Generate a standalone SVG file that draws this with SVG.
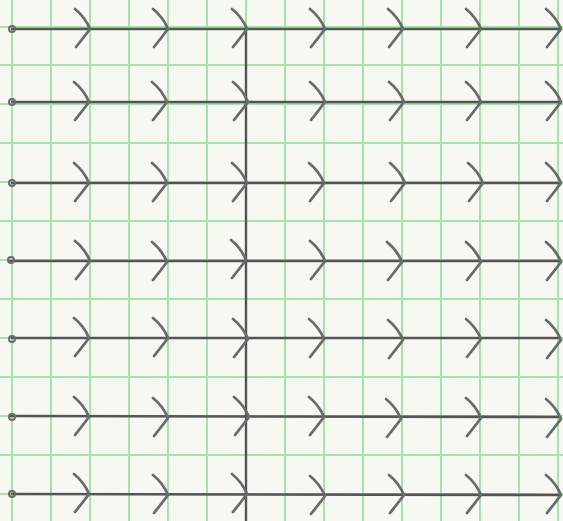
<svg xmlns="http://www.w3.org/2000/svg" xmlns:xlink="http://www.w3.org/1999/xlink" width="563" height="521" viewBox="0 0 563 521">
<style>
.grid line{stroke:#a3e4ab;stroke-width:2}
.row{stroke:#555;stroke-width:2.6;fill:none;stroke-linecap:round}
.axis{stroke:#555;stroke-width:2.4;fill:none}
.chev{stroke:#6a6a6a;stroke-width:2.8;fill:none;stroke-linecap:round;stroke-linejoin:round}
.dot{fill:none;stroke:#6a6a6a;stroke-width:2}
</style>
<defs>
<path id="cv" class="chev" d="M-15,-20 Q-5,-12 0,0 Q-6,8 -14,18"/>
</defs>
<rect width="563" height="521" fill="#f6f8f1"/>
<g class="grid">
<line x1="12" y1="0" x2="12" y2="521"/><line x1="51" y1="0" x2="51" y2="521"/><line x1="90" y1="0" x2="90" y2="521"/><line x1="129" y1="0" x2="129" y2="521"/><line x1="168" y1="0" x2="168" y2="521"/><line x1="207" y1="0" x2="207" y2="521"/><line x1="246" y1="0" x2="246" y2="521"/><line x1="285" y1="0" x2="285" y2="521"/><line x1="324" y1="0" x2="324" y2="521"/><line x1="363" y1="0" x2="363" y2="521"/><line x1="402" y1="0" x2="402" y2="521"/><line x1="441" y1="0" x2="441" y2="521"/><line x1="480" y1="0" x2="480" y2="521"/><line x1="519" y1="0" x2="519" y2="521"/><line x1="558" y1="0" x2="558" y2="521"/>
<line x1="0" y1="27" x2="563" y2="27"/><line x1="0" y1="65" x2="563" y2="65"/><line x1="0" y1="104" x2="563" y2="104"/><line x1="0" y1="143" x2="563" y2="143"/><line x1="0" y1="182" x2="563" y2="182"/><line x1="0" y1="221" x2="563" y2="221"/><line x1="0" y1="260" x2="563" y2="260"/><line x1="0" y1="299" x2="563" y2="299"/><line x1="0" y1="338" x2="563" y2="338"/><line x1="0" y1="377" x2="563" y2="377"/><line x1="0" y1="416" x2="563" y2="416"/><line x1="0" y1="455" x2="563" y2="455"/><line x1="0" y1="494" x2="563" y2="494"/>
</g>
<g id="axis"><line class="axis" x1="246" y1="26" x2="246" y2="521"/></g>
<g id="rows">
<g id="row1"><line class="row" x1="12" y1="29" x2="560" y2="29"/><circle class="dot" cx="12" cy="29" r="3"/>
<use xlink:href="#cv" x="90" y="29"/><use xlink:href="#cv" x="168" y="29"/><use xlink:href="#cv" x="247" y="29"/><use xlink:href="#cv" x="325" y="29"/><use xlink:href="#cv" x="403" y="29"/><use xlink:href="#cv" x="481" y="29"/><use xlink:href="#cv" x="561" y="29"/></g>
<g id="row2"><line class="row" x1="12" y1="102" x2="560" y2="102"/><circle class="dot" cx="12" cy="102" r="3"/>
<use xlink:href="#cv" x="89" y="102"/><use xlink:href="#cv" x="167" y="102"/><use xlink:href="#cv" x="248" y="102"/><use xlink:href="#cv" x="325" y="102"/><use xlink:href="#cv" x="404" y="102"/><use xlink:href="#cv" x="481" y="102"/><use xlink:href="#cv" x="561" y="102"/></g>
<g id="row3"><line class="row" x1="12" y1="183" x2="560" y2="183"/><circle class="dot" cx="12" cy="183" r="3"/>
<use xlink:href="#cv" x="89" y="183"/><use xlink:href="#cv" x="167" y="183"/><use xlink:href="#cv" x="247" y="183"/><use xlink:href="#cv" x="324" y="183"/><use xlink:href="#cv" x="405" y="183"/><use xlink:href="#cv" x="483" y="183"/><use xlink:href="#cv" x="561" y="183"/></g>
<g id="row4"><line class="row" x1="10" y1="261" x2="560" y2="261"/><circle class="dot" cx="11" cy="260" r="3"/>
<use xlink:href="#cv" x="90" y="261"/><use xlink:href="#cv" x="167" y="262"/><use xlink:href="#cv" x="246" y="260"/><use xlink:href="#cv" x="325" y="261"/><use xlink:href="#cv" x="402" y="262"/><use xlink:href="#cv" x="481" y="262"/><use xlink:href="#cv" x="561" y="262"/></g>
<g id="row5"><line class="row" x1="12" y1="338" x2="560" y2="338"/><circle class="dot" cx="12" cy="339" r="3"/>
<use xlink:href="#cv" x="89" y="338"/><use xlink:href="#cv" x="168" y="338"/><use xlink:href="#cv" x="248" y="339"/><use xlink:href="#cv" x="324" y="339"/><use xlink:href="#cv" x="403" y="340"/><use xlink:href="#cv" x="481" y="339"/><use xlink:href="#cv" x="561" y="340"/></g>
<g id="row6"><line class="row" x1="10" y1="416" x2="560" y2="417"/><circle class="dot" cx="12" cy="417" r="3"/>
<use xlink:href="#cv" x="89" y="417"/><use xlink:href="#cv" x="168" y="418"/><use xlink:href="#cv" x="249" y="417"/><use xlink:href="#cv" x="324" y="417"/><use xlink:href="#cv" x="401" y="419"/><use xlink:href="#cv" x="481" y="418"/><use xlink:href="#cv" x="561" y="419"/></g>
<g id="row7"><line class="row" x1="12" y1="494" x2="560" y2="495"/><circle class="dot" cx="12" cy="494" r="3" fill="#777"/>
<use xlink:href="#cv" x="89" y="494"/><use xlink:href="#cv" x="168" y="495"/><use xlink:href="#cv" x="247" y="494"/><use xlink:href="#cv" x="325" y="496"/><use xlink:href="#cv" x="404" y="495"/><use xlink:href="#cv" x="481" y="495"/><use xlink:href="#cv" x="561" y="495"/></g>
</g>
</svg>
